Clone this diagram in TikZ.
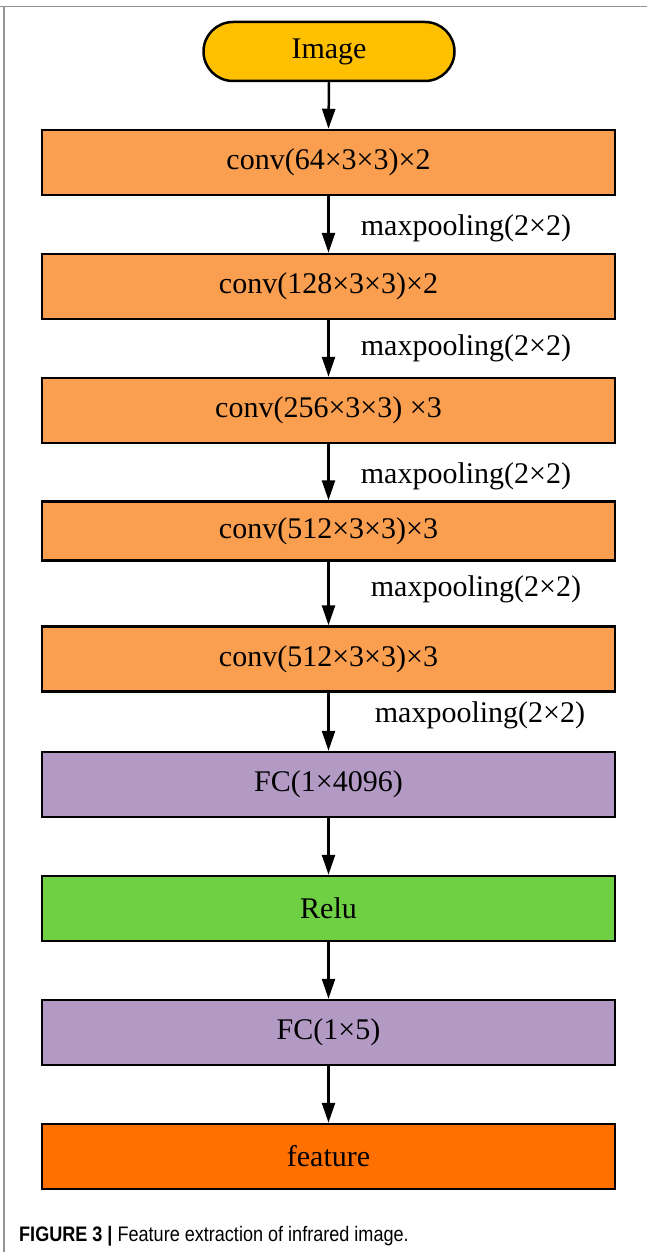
\documentclass[tikz,border=0pt]{standalone}
\usepackage{fontspec}
\setmainfont{Liberation Serif}
\newfontfamily\capfont[FakeStretch=0.86]{Liberation Sans}
\usetikzlibrary{arrows.meta,shapes.misc}
\definecolor{imgc}{HTML}{FFC000}
\definecolor{convc}{HTML}{FA9E50}
\definecolor{fcc}{HTML}{B39AC5}
\definecolor{reluc}{HTML}{6FD044}
\definecolor{featc}{HTML}{FF7000}
\tikzset{
  blk/.style={draw=black, line width=2.5pt, rectangle, minimum width=573pt, minimum height=65pt, inner sep=0pt, font=\fontsize{30}{36}\selectfont},
  pill/.style={draw=black, line width=2.5pt, rounded rectangle, minimum width=251pt, minimum height=59pt, inner sep=0pt, fill=imgc, font=\fontsize{30}{36}\selectfont},
  arr/.style={line width=2.5pt, -{Triangle[width=13pt,length=20pt]}},
  lbl/.style={inner sep=0pt, font=\fontsize{30}{36}\selectfont},
  frame/.style={draw=gray!85, line width=1.5pt}
}
\begin{document}
\begin{tikzpicture}[x=1pt,y=-1pt]
\useasboundingbox (0,0) rectangle (647,1252);
\draw[frame] (0,6.5) -- (647,6.5);
\draw[frame] (4,6.5) -- (4,1252);
\node[pill] (img) at (329,51.5) {Image};
\node[blk, fill=convc] (c1) at (328.5,162.5) {conv(64×3×3)×2};
\node[blk, fill=convc] (c2) at (328.5,286.5) {conv(128×3×3)×2};
\node[blk, fill=convc] (c3) at (328.5,410.5) {conv(256×3×3) ×3};
\node[blk, fill=convc, minimum height=59pt] (c4) at (328.5,531) {conv(512×3×3)×3};
\node[blk, fill=convc] (c5) at (328.5,659) {conv(512×3×3)×3};
\node[blk, fill=fcc] (fc1) at (328.5,784.5) {FC(1×4096)};
\node[blk, fill=reluc] (relu) at (328.5,908.5) {Relu};
\node[blk, fill=fcc] (fc2) at (328.5,1032.5) {FC(1×5)};
\node[blk, fill=featc] (feat) at (328.5,1156.5) {feature};
\draw[arr] (img.south) -- (c1.north);
\draw[arr] (c1.south) -- (c2.north);
\draw[arr] (c2.south) -- (c3.north);
\draw[arr] (c3.south) -- (c4.north);
\draw[arr] (c4.south) -- (c5.north);
\draw[arr] (c5.south) -- (fc1.north);
\draw[arr] (fc1.south) -- (relu.north);
\draw[arr] (relu.south) -- (fc2.north);
\draw[arr] (fc2.south) -- (feat.north);
\node[lbl] (m1) at (466,228) {maxpooling(2×2)};
\node[lbl] (m2) at (466,348) {maxpooling(2×2)};
\node[lbl] (m3) at (466,476) {maxpooling(2×2)};
\node[lbl] (m4) at (476,589) {maxpooling(2×2)};
\node[lbl] (m5) at (480,715) {maxpooling(2×2)};
\node[anchor=west, inner sep=0pt, font=\capfont\fontsize{21}{25}\selectfont] (cap) at (19,1236) {\textbf{FIGURE 3 |} Feature extraction of infrared image.};
\end{tikzpicture}
\end{document}
